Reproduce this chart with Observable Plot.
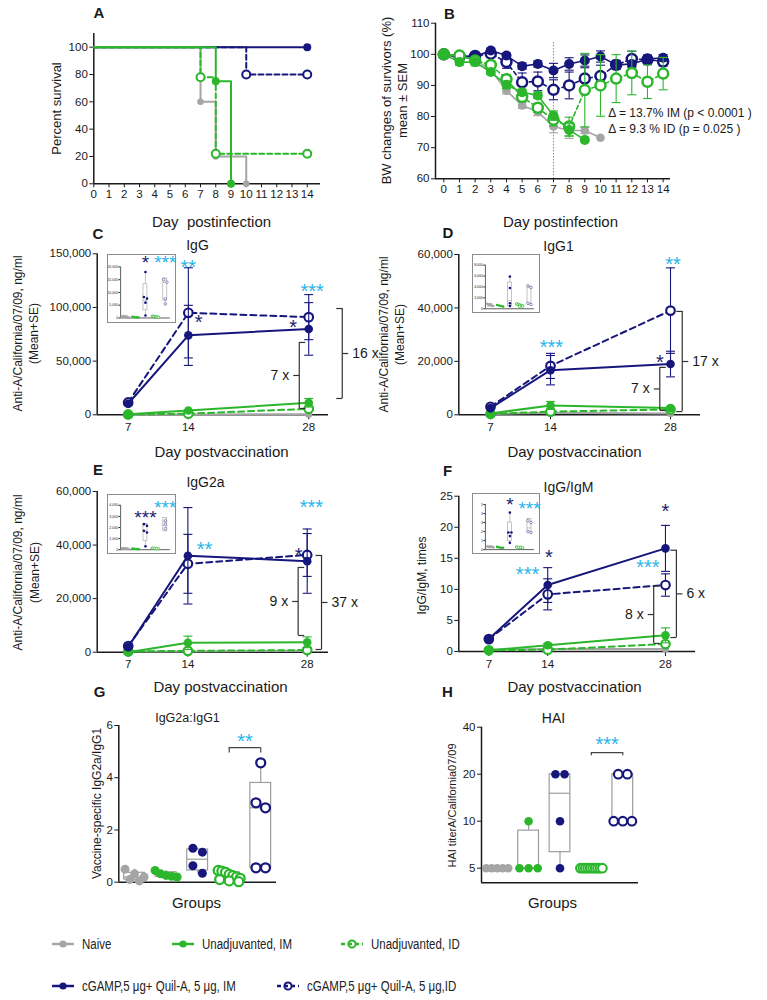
<!DOCTYPE html>
<html><head><meta charset="utf-8">
<script src="https://cdn.jsdelivr.net/npm/d3@7"></script>
<script src="https://cdn.jsdelivr.net/npm/@observablehq/plot@0.6"></script>
<style>
body{margin:0;background:#fff;}
#root{position:relative;width:767px;height:1000px;overflow:hidden;background:#fff;font-family:"Liberation Sans",Arial,sans-serif;}
.panel{position:absolute;}
.panel svg{overflow:visible;}
.inset svg{background:#fff !important;outline:1.3px solid #8c8c8c;outline-offset:-1px;}
.leg{position:absolute;height:16px;display:flex;align-items:center;gap:8px;font-family:"Liberation Sans",Arial,sans-serif;font-size:14px;color:#222;white-space:nowrap;}
.leg span{display:inline-block;transform:scaleX(0.82);transform-origin:left center;}
</style></head>
<body><div id="root"></div>
<script>
// ================= DATA =================
// A: survival (Kaplan–Meier change points)
const survNaiveDay = [0, 7, 8, 10],  survNaivePct = [100, 60, 20, 0];
const survUnIMDay  = [0, 8, 9],      survUnIMPct  = [100, 75, 0];
const survUnIDDay  = [0, 7, 8, 14],  survUnIDPct  = [100, 78, 22, 22];
const survCIMDay   = [0, 14],        survCIMPct   = [100, 100];
const survCIDDay   = [0, 10, 14],    survCIDPct   = [100, 80, 80];
const infectionDayTicks = [0,1,2,3,4,5,6,7,8,9,10,11,12,13,14];
const survivalTicks = [0, 20, 40, 60, 80, 100];

// B: body weight of survivors (mean ± SEM)
const bwDays = [0,1,2,3,4,5,6,7,8,9,10,11,12,13,14];
const bwNaive    = [100, 99.5, 98.2, 95, 88.3, 83.6, 81.5, 76.8, 75.5, 75.5, 73.2];
const bwNaiveSem = [0, 0.5, 0.8, 1, 1, 1, 1.2, 2, 2.5, 1, 0];
const bwUnIM     = [100, 97.5, 97.5, 94.3, 90.2, 87.8, 86.8, 80.3, 75.7, 72.5];
const bwUnIMSem  = [0, 1, 1.2, 0.8, 1.2, 1, 1, 1.5, 2, 0];
const bwUnID     = [100, 99.6, 98, 96.6, 92, 86.3, 82.8, 79, 76.8, 88.5, 90, 92.2, 94, 91.2, 93.8];
const bwUnIDSem  = [0, 0.5, 0.8, 1, 1.5, 1.5, 1.5, 2, 3, 11.8, 9.9, 7.7, 7, 5.4, 5.2];
const bwCIM      = [100, 99, 99.3, 101.2, 99.6, 96.2, 96.9, 94.8, 96.9, 98, 99.3, 96.6, 96.9, 98.5, 98.9];
const bwCIMSem   = [0, 0.5, 0.5, 0.8, 0.8, 1, 1, 2.3, 2, 1.8, 1.8, 1, 1, 1, 1];
const bwCID      = [100, 99.3, 99.5, 100.2, 97.5, 91, 91.3, 88.6, 90, 92.2, 93, 96.6, 98.5, 98.3, 97.7];
const bwCIDSem   = [0, 0.5, 0.5, 0.5, 2, 3, 3, 3.2, 4.3, 3.5, 3.5, 1.5, 2.5, 1.5, 1.5];
const bwTicks = [60, 70, 80, 90, 100, 110];
const deltaNotes = ["\u0394 = 13.7% IM (p < 0.0001 )", "\u0394 = 9.3 % ID (p = 0.025 )"];
const deltaNoteDay = 10.5, deltaNoteY = [81, 75.8];

// C–F: days post vaccination
const vacDays = [7, 14, 28];
// C IgG
const igGNaive = [300, 300, 500];
const igGUnIM = [500, 4000, 11200],  igGUnIMSe = [0, 800, 4000];
const igGUnID = [300, 1000, 5600],   igGUnIDSe = [0, 300, 1500];
const igGCIM  = [10300, 74000, 80000], igGCIMSe = [1500, 28000, 24500];
const igGCID  = [11500, 95000, 91000], igGCIDSe = [1500, 42000, 21000];
const starsC = [[15.2, 89700, "*", "navy"], [26.2, 85000, "*", "navy"], [14.0, 141000, "**", "cyan"], [28.4, 118600, "***", "cyan"]];
const bracketsC = [[26.9, 5900, 67400, "7 x", "r"], [31.9, 15200, 99000, "16 x", "l"]];
// D IgG1
const igG1Naive = [300, 800, 500];
const igG1UnIM = [500, 3500, 2500],  igG1UnIMSe = [0, 1500, 500];
const igG1UnID = [300, 1200, 2000],  igG1UnIDSe = [0, 300, 500];
const igG1CIM  = [2500, 16700, 19000], igG1CIMSe = [500, 5500, 4800];
const igG1CID  = [3000, 18300, 39000], igG1CIDSe = [500, 4700, 16000];
const starsD = [[14.1, 26600, "***", "cyan"], [28.3, 57800, "**", "cyan"], [26.75, 21200, "*", "navy"]];
const bracketsD = [[26.75, 1600, 17750, "7 x", "r"], [29.37, 1200, 38700, "17 x", "l"]];
// E IgG2a
const igG2aNaive = [300, 300, 500];
const igG2aUnIM = [0, 3500, 3700],    igG2aUnIMSe = [0, 2500, 2000];
const igG2aUnID = [300, 500, 800],    igG2aUnIDSe = [0, 200, 300];
const igG2aCIM  = [2000, 36000, 34000], igG2aCIMSe = [300, 18000, 12000];
const igG2aCID  = [2300, 33000, 36300], igG2aCIDSe = [300, 11000, 8000];
const starsE = [[15.95, 39800, "**", "cyan"], [28.5, 55400, "***", "cyan"], [27.0, 37600, "*", "navy"]];
const bracketsE = [[26.94, 6240, 31640, "9 x", "r"], [29.68, 1010, 36120, "37 x", "l"]];
// F IgG/IgM
const ratioNaive = [0.3, 0.4, 0.4];
const ratioUnIM = [0.2, 1.0, 2.6],  ratioUnIMSe = [0, 0.3, 1.2];
const ratioUnID = [0.2, 0.3, 1.2],  ratioUnIDSe = [0, 0.1, 0.3];
const ratioCIM  = [2.0, 10.7, 16.6], ratioCIMSe = [0.2, 2.8, 3.7];
const ratioCID  = [2.0, 9.2, 10.7],  ratioCIDSe = [0.2, 2.5, 1.8];
const starsF = [[14.13, 15.7, "*", "navy"], [11.6, 13.0, "***", "cyan"], [28.0, 23.2, "*", "navy"], [25.9, 14.1, "***", "cyan"]];
const bracketsF = [[26.6, 1.3, 10.6, "8 x", "r"], [29.3, 2.25, 16.3, "6 x", "l"]];

// Insets (day 28 per-mouse values): groups Naive, Unadj IM, cGAMP IM, Unadj ID, cGAMP ID
const insetCBox = [[200, 500, 900, 100, 1000], null, [3000, 7000, 13200, 1000, 18000], null, [6800, 14000, 15500, 5500, 15500]];
const insetCPts = [[500, 700, 400, 600, 300], [300, 400, 500, 200], [18000, 8200, 7600, 6000, 1000], [400, 600, 300, 500, 700], [15000, 14000, 7500, 5500]];
const insetCStars = [[2, 23200, "*", "navy"], [4, 23200, "***", "cyan"]];
const insetDBox = [[400, 600, 900, 300, 1000], null, [470, 1500, 4800, 200, 5900], null, [800, 1000, 3900, 800, 4200]];
const insetDPts = [[600, 800, 500, 700, 900], [500, 600, 400, 700], [5900, 3800, 1000, 500], [600, 400, 800, 500, 700, 900], [4200, 3900, 1000, 800]];
const insetEBox = [[50, 100, 150, 20, 200], null, [800, 1700, 2300, 300, 2300], null, [1650, 2200, 2850, 1650, 2850]];
const insetEPts = [[100, 80, 120, 60, 90], [50, 100, 80, 60], [2300, 2150, 1700, 1550, 300], [100, 150, 80, 120], [2600, 2300, 1900]];
const insetEStars = [[2, 3230, "***", "navy"], [4, 4130, "***", "cyan"]];
const insetFBox = [[0.25, 0.3, 0.35, 0.2, 0.4], null, [0.94, 1.9, 3.0, 0.75, 4.1], null, [1.9, 2.4, 3.4, 1.9, 3.4]];
const insetFPts = [[0.3, 0.35, 0.3, 0.3, 0.25], [0.2, 0.25, 0.3, 0.2], [4.1, 1.9, 1.9, 1.5, 0.75], [0.2, 0.25, 0.3, 0.25], [3.2, 3.0, 2.0, 1.9]];
const insetFStars = [[2, 5.44, "*", "navy"], [4, 4.9, "***", "cyan"]];

// G: IgG2a:IgG1 ratio per mouse
const gNaive = [0.5, 0.32, 0.2, 0.1, 0.05];
const gUnIM  = [0.45, 0.32, 0.26, 0.23, 0.2];
const gCIM   = [1.3, 1.15, 0.63, 0.34];
const gUnID  = [0.45, 0.42, 0.38, 0.3, 0.25, 0.2, 0.15, 0.1, 0.05, 0.02];
const gCID   = [4.57, 3.04, 2.85, 0.55, 0.55];
const gBoxes = [[0.1, 0.2, 0.36, 0.05, 0.5], [0.2, 0.26, 0.38, 0.2, 0.45], [0.45, 0.88, 1.25, 0.34, 1.3], [0.13, 0.22, 0.38, 0.02, 0.45], [0.55, 2.85, 3.8, 0.55, 4.57]];
// H: HAI titers per mouse
const hNaive = [5, 5, 5, 5, 5];
const hUnIM  = [10, 5, 5, 5];
const hCIM   = [20, 20, 10, 5];
const hUnID  = [5, 5, 5, 5, 5, 5, 5, 5, 5, 5];
const hCID   = [20, 20, 10, 10, 10];
const hBoxes = [[5, 5, 5, 5, 5], [5, 5, 8.7, 5, 10], [6.33, 15.1, 20, 5, 20], [5, 5, 5, 5, 5], [10, 10, 20, 10, 20]];

const legendRow1 = [["Naive", "naive"], ["Unadjuvanted, IM", "unIM"], ["Unadjuvanted, ID", "unID"]];
const legendRow2 = [["cGAMP,5 \u03bcg+ Quil-A, 5 \u03bcg, IM", "cIM"], ["cGAMP,5 \u03bcg+ Quil-A, 5 \u03bcg,ID", "cID"]];

// ================= STYLE =================
const NAVY = "#16167c", GREEN = "#2bb62b", GRAY = "#a5a5a5", CYAN = "#2ab4e8", INK = "#1a1a1a", BR = "#333333", BOXC = "#9d9d9d", IDLIGHT = "#7070a8";
const COLORS = {navy: "#1c1c70", cyan: CYAN};
const FONT = '"Liberation Sans", Arial, Helvetica, sans-serif';
const ST = {
  naive: {color: GRAY, open: false, small: true},
  unIM: {color: GREEN, open: false},
  unID: {color: GREEN, open: true},
  cIM: {color: NAVY, open: false},
  cID: {color: NAVY, open: true}
};
const GROUP_ST = [ST.naive, ST.unIM, ST.cIM, ST.unID, ST.cID];

const symH = {draw(c, s) { const r = Math.sqrt(s / Math.PI); c.moveTo(-r, 0); c.lineTo(r, 0); }};
const symR = {draw(c, s) { const r = Math.sqrt(s / Math.PI); c.moveTo(0, 0); c.lineTo(r, 0); }};
const symL = {draw(c, s) { const r = Math.sqrt(s / Math.PI); c.moveTo(-r, 0); c.lineTo(0, 0); }};

// ================= HELPERS =================
const root = document.getElementById("root");
function mount(node, reg, cls) {
  const d = document.createElement("div");
  d.className = cls || "panel";
  Object.assign(d.style, {left: reg.x + "px", top: reg.y + "px", width: reg.w + "px", height: reg.h + "px"});
  d.appendChild(node); root.appendChild(d);
}
function render(P, marks, fontSize) {
  const svg = Plot.plot({
    width: P.reg.w, height: P.reg.h,
    marginLeft: P.ml, marginRight: P.mr, marginTop: P.mt, marginBottom: P.mb,
    style: {fontFamily: FONT, fontSize: (fontSize || 11.5) + "px", color: INK, background: "none", overflow: "visible"},
    x: P.x, y: P.y, marks
  });
  svg.style.overflow = "visible";
  mount(svg, P.reg, P.cls);
  return svg;
}
function ft(P, str, ax, ay, o = {}) {
  return Plot.text([str], {
    text: d => d, frameAnchor: "top-left",
    dx: ax - P.reg.x - P.ml, dy: ay - P.reg.y - P.mt,
    fontSize: o.size || 13, fill: o.color || INK, fontWeight: o.weight || "normal",
    rotate: o.rotate || 0, textAnchor: o.anchor || "middle", lineAnchor: "middle", fontFamily: o.family || FONT
  });
}
function axisLines(P, w) {
  return [
    Plot.ruleX([P.x.domain[0]], {stroke: INK, strokeWidth: w || 1.5}),
    Plot.ruleY([P.y.domain[0]], {stroke: INK, strokeWidth: w || 1.5})
  ];
}
function dotStyle(st, r) {
  return st.open ? {r, fill: "white", stroke: st.color, strokeWidth: Math.max(0.8, r * 0.5)} : {r, fill: st.color, stroke: "none"};
}
function seriesMarks(days, vals, errs, st, o) {
  const pts = days.map((x, i) => ({x, v: vals[i], e: errs ? errs[i] : 0})).filter(p => p.v != null);
  const eb = pts.filter(p => p.e > 0);
  const caps = eb.flatMap(p => [{x: p.x, v: p.v - p.e}, {x: p.x, v: p.v + p.e}]);
  const ms = [];
  if (eb.length) {
    ms.push(Plot.ruleX(eb, {x: "x", y1: p => p.v - p.e, y2: p => p.v + p.e, stroke: st.color, strokeWidth: o.ebw || 1.1}));
    ms.push(Plot.dot(caps, {x: "x", y: "v", symbol: symH, r: o.cap || 4.5, stroke: st.color, strokeWidth: o.ebw || 1.1, fill: "none"}));
  }
  ms.push(Plot.line(pts, {x: "x", y: "v", stroke: st.color, strokeWidth: o.lw || 2, strokeDasharray: st.open ? (o.dash || "6,4") : null, curve: o.curve || "linear"}));
  ms.push(Plot.dot(pts.slice(o.markFrom || 0), {x: "x", y: "v", ...dotStyle(st, st.small ? o.r - 0.7 : o.r)}));
  return ms;
}
function starMarks(list, size) {
  return ["navy", "cyan"].map(c => Plot.text(list.filter(s => s[3] === c), {
    x: s => s[0], y: s => s[1], text: s => s[2], fill: COLORS[c], fontSize: size || 20, dy: 4, lineAnchor: "middle", fontFamily: FONT
  }));
}
function bracketMarks(list) {
  const b = list.map(([x, y1, y2, label, dir]) => ({x, y1, y2, label, dir, ym: (y1 + y2) / 2}));
  const R = b.filter(d => d.dir === "r"), L = b.filter(d => d.dir === "l");
  const ends = arr => arr.flatMap(d => [{x: d.x, y: d.y1}, {x: d.x, y: d.y2}]);
  const base = {stroke: BR, strokeWidth: 1.2, fill: "none", r: 6};
  return [
    Plot.ruleX(b, {x: "x", y1: "y1", y2: "y2", stroke: BR, strokeWidth: 1.2}),
    Plot.dot(ends(R), {x: "x", y: "y", symbol: symR, ...base}),
    Plot.dot(ends(L), {x: "x", y: "y", symbol: symL, ...base}),
    Plot.dot(R, {x: "x", y: "ym", symbol: symL, ...base}),
    Plot.dot(L, {x: "x", y: "ym", symbol: symR, ...base}),
    Plot.text(R, {x: "x", y: "ym", text: "label", textAnchor: "end", dx: -10, fontSize: 14, fill: INK, fontFamily: FONT}),
    Plot.text(L, {x: "x", y: "ym", text: "label", textAnchor: "start", dx: 10, fontSize: 14, fill: INK, fontFamily: FONT})
  ];
}
function swarm(P, groups, r, maxW, yType) {
  const plotH = P.reg.h - P.mt - P.mb, plotW = P.reg.w - P.ml - P.mr;
  const [d0, d1] = P.y.domain;
  const py = v => yType === "log" ? Math.log(v / d0) / Math.log(d1 / d0) * plotH : (v - d0) / (d1 - d0) * plotH;
  const unit = plotW / 5, out = [];
  groups.forEach((vals, g) => {
    const sorted = vals.map(v => ({v, p: py(v)})).sort((a, b) => b.p - a.p);
    const rows = [];
    for (const s of sorted) {
      const row = rows[rows.length - 1];
      if (row && Math.abs(row[0].p - s.p) <= 2 * r) row.push(s); else rows.push([s]);
    }
    for (const row of rows) {
      const n = row.length;
      const sp = n > 1 ? Math.min(2 * r + 0.5, maxW / (n - 1)) : 0;
      row.forEach((s, k) => out.push({g, v: s.v, x: g + (k - (n - 1) / 2) * sp / unit}));
    }
  });
  return out;
}
function pointMarks(P, groups, r, maxW, yType, light) {
  const sw = swarm(P, groups, r, maxW, yType);
  return GROUP_ST.map((st, g) => Plot.dot(sw.filter(p => p.g === g),
    {x: "x", y: "v", ...dotStyle(light && g === 4 ? {...st, color: IDLIGHT} : st, r)}));
}
function boxMarks(boxArr, hw, sw) {
  const b = boxArr.map((q, i) => q && {i, q1: q[0], med: q[1], q3: q[2], lo: q[3], hi: q[4]}).filter(Boolean);
  return [
    Plot.ruleX(b, {x: "i", y1: "q3", y2: "hi", stroke: BOXC, strokeWidth: sw}),
    Plot.ruleX(b, {x: "i", y1: "lo", y2: "q1", stroke: BOXC, strokeWidth: sw}),
    Plot.rect(b, {x1: d => d.i - hw, x2: d => d.i + hw, y1: "q1", y2: "q3", fill: "white", stroke: BOXC, strokeWidth: sw}),
    Plot.ruleY(b, {x1: d => d.i - hw, x2: d => d.i + hw, y: "med", stroke: BOXC, strokeWidth: sw})
  ];
}
function sigMarks(from, to, y, legY, starY, text) {
  const top = [{a: from, b: to, y}];
  const legs = [{x: from}, {x: to}];
  return [
    Plot.ruleY(top, {x1: "a", x2: "b", y: "y", stroke: "#444", strokeWidth: 1.2}),
    Plot.ruleX(legs, {x: "x", y1: () => legY, y2: () => y, stroke: "#444", strokeWidth: 1.2}),
    Plot.text([text], {x: () => (from + to) / 2, y: () => starY, text: d => d, fill: CYAN, fontSize: 20, dy: 4, lineAnchor: "middle", fontFamily: FONT})
  ];
}
function insetPlot(reg, yDomain, yTicks, boxArr, ptsArr, stars) {
  const P = {reg, ml: reg.w * 0.19, mr: reg.w * 0.09, mt: reg.h * 0.18, mb: reg.h * 0.08, cls: "panel inset",
    x: {domain: [-0.5, 4.5], axis: null},
    y: {domain: yDomain, ticks: yTicks, tickSize: 1.5, tickPadding: 1, tickFormat: d3.format(","), label: null}};
  render(P, [
    ...axisLines(P, 0.7),
    ...boxMarks(boxArr, 0.2, 0.6),
    ...pointMarks(P, ptsArr, 1.3, 6, "linear", true),
    ...(stars ? starMarks(stars, 19) : [])
  ], 3.5);
}
const intFmt = d => String(d);

// ================= PANEL A =================
const PA = {reg: {x: 0, y: 0, w: 380, h: 225}, ml: 93.3, mr: 60, mt: 33, mb: 41.7,
  x: {domain: [0, 14.87], ticks: infectionDayTicks, tickSize: 4, tickPadding: 2, tickFormat: intFmt, label: null},
  y: {domain: [0, 110], ticks: survivalTicks, tickSize: 4, tickPadding: 2, tickFormat: intFmt, label: null}};
const ko = {lw: 2, r: 4, dash: "5,3", curve: "step-after", markFrom: 1};
render(PA, [
  ...axisLines(PA),
  ...seriesMarks(survCIDDay, survCIDPct, null, ST.cID, ko),
  ...seriesMarks(survCIMDay, survCIMPct, null, ST.cIM, ko),
  ...seriesMarks(survNaiveDay, survNaivePct, null, ST.naive, ko),
  ...seriesMarks(survUnIDDay, survUnIDPct, null, ST.unID, ko),
  ...seriesMarks(survUnIMDay, survUnIMPct, null, ST.unIM, ko),
  ft(PA, "A", 98.5, 12.5, {size: 15, weight: "bold"}),
  ft(PA, "Percent survival", 56, 108, {size: 13, rotate: -90}),
  ft(PA, "Day  postinfection", 211, 222, {size: 15})
]);

// ================= PANEL B =================
const PB = {reg: {x: 380, y: 0, w: 387, h: 225}, ml: 55, mr: 97, mt: 22.7, mb: 46.7,
  x: {domain: [-0.53, 14.47], ticks: infectionDayTicks, tickSize: 4, tickPadding: 2, tickFormat: intFmt, label: null},
  y: {domain: [60, 110], ticks: bwTicks, tickSize: 4, tickPadding: 2, tickFormat: intFmt, label: null}};
const bo = {lw: 1.6, r: 5, cap: 4.5, dash: "4,3", ebw: 1.1};
render(PB, [
  ...axisLines(PB),
  Plot.ruleX([7], {y1: () => 60, y2: () => 104, stroke: "#444", strokeWidth: 0.9, strokeDasharray: "1,2"}),
  ...seriesMarks(bwDays, bwCID, bwCIDSem, ST.cID, bo),
  ...seriesMarks(bwDays, bwCIM, bwCIMSem, ST.cIM, bo),
  ...seriesMarks(bwDays, bwNaive, bwNaiveSem, ST.naive, bo),
  ...seriesMarks(bwDays, bwUnID, bwUnIDSem, ST.unID, bo),
  ...seriesMarks(bwDays, bwUnIM, bwUnIMSem, ST.unIM, bo),
  Plot.text(deltaNotes, {x: () => deltaNoteDay, y: (d, i) => deltaNoteY[i], text: d => d, textAnchor: "start", lineAnchor: "middle", fontSize: 12, fill: INK, fontFamily: FONT}),
  ft(PB, "B", 449, 14, {size: 15, weight: "bold"}),
  ft(PB, "BW changes of survivors (%)", 386, 100, {size: 13, rotate: -90}),
  ft(PB, "mean \u00b1 SEM", 402, 100, {size: 13, rotate: -90}),
  ft(PB, "Day postinfection", 560, 222, {size: 15})
]);

// ================= PANELS C–F =================
const vo = {lw: 2, r: 4.3, cap: 4.5, dash: "6,4", ebw: 1.1};
function vacSeries(naive, unIM, unIMSe, unID, unIDSe, cIM, cIMSe, cID, cIDSe) {
  return [
    ...seriesMarks(vacDays, naive, null, ST.naive, vo),
    ...seriesMarks(vacDays, unID, unIDSe, ST.unID, vo),
    ...seriesMarks(vacDays, unIM, unIMSe, ST.unIM, vo),
    ...seriesMarks(vacDays, cID, cIDSe, ST.cID, vo),
    ...seriesMarks(vacDays, cIM, cIMSe, ST.cIM, vo)
  ];
}
const fmt = d3.format(",");

const PC = {reg: {x: 0, y: 225, w: 380, h: 230}, ml: 96.7, mr: 52, mt: 28.3, mb: 40.7,
  x: {domain: [3.4, 30.3], ticks: vacDays, tickSize: 5, tickPadding: 3, tickFormat: intFmt, label: null},
  y: {domain: [0, 150000], ticks: [0, 50000, 100000, 150000], tickFormat: fmt, tickSize: 4, tickPadding: 2, label: null}};
render(PC, [
  ...axisLines(PC),
  ...vacSeries(igGNaive, igGUnIM, igGUnIMSe, igGUnID, igGUnIDSe, igGCIM, igGCIMSe, igGCID, igGCIDSe),
  ...bracketMarks(bracketsC),
  ...starMarks(starsC),
  ft(PC, "C", 97.5, 234, {size: 15, weight: "bold"}),
  ft(PC, "IgG", 197, 245, {size: 14}),
  ft(PC, "Anti-A/California/07/09, ng/ml", 17.5, 333, {size: 12, rotate: -90}),
  ft(PC, "(Mean+SE)", 34, 333, {size: 12, rotate: -90}),
  ft(PC, "Day postvaccination", 221, 452, {size: 15})
]);
insetPlot({x: 107, y: 254, w: 69, h: 69}, [0, 20000], [0, 5000, 10000, 15000, 20000], insetCBox, insetCPts, insetCStars);

const PD = {reg: {x: 380, y: 225, w: 387, h: 230}, ml: 78.3, mr: 67, mt: 29, mb: 40.7,
  x: {domain: [3.3, 31.5], ticks: vacDays, tickSize: 5, tickPadding: 3, tickFormat: intFmt, label: null},
  y: {domain: [0, 60000], ticks: [0, 20000, 40000, 60000], tickFormat: fmt, tickSize: 4, tickPadding: 2, label: null}};
render(PD, [
  ...axisLines(PD),
  ...vacSeries(igG1Naive, igG1UnIM, igG1UnIMSe, igG1UnID, igG1UnIDSe, igG1CIM, igG1CIMSe, igG1CID, igG1CIDSe),
  ...bracketMarks(bracketsD),
  ...starMarks(starsD),
  ft(PD, "D", 447.5, 233, {size: 15, weight: "bold"}),
  ft(PD, "IgG1", 558, 246, {size: 14}),
  ft(PD, "Anti-A/California/07/09, ng/ml", 384, 334, {size: 12, rotate: -90}),
  ft(PD, "(Mean+SE)", 400, 334, {size: 12, rotate: -90}),
  ft(PD, "Day postvaccination", 574, 452, {size: 15})
]);
insetPlot({x: 472, y: 254, w: 68, h: 59}, [0, 8000], [0, 2000, 4000, 6000, 8000], insetDBox, insetDPts, null);

const PE = {reg: {x: 0, y: 455, w: 380, h: 230}, ml: 96.7, mr: 52, mt: 36, mb: 33.3,
  x: {domain: [3.36, 30.5], ticks: vacDays, tickSize: 5, tickPadding: 3, tickFormat: intFmt, label: null},
  y: {domain: [0, 60000], ticks: [0, 20000, 40000, 60000], tickFormat: fmt, tickSize: 4, tickPadding: 2, label: null}};
render(PE, [
  ...axisLines(PE),
  ...vacSeries(igG2aNaive, igG2aUnIM, igG2aUnIMSe, igG2aUnID, igG2aUnIDSe, igG2aCIM, igG2aCIMSe, igG2aCID, igG2aCIDSe),
  ...bracketMarks(bracketsE),
  ...starMarks(starsE),
  ft(PE, "E", 97.5, 470, {size: 15, weight: "bold"}),
  ft(PE, "IgG2a", 205, 482, {size: 14}),
  ft(PE, "Anti-A/California/07/09, ng/ml", 18, 572, {size: 12, rotate: -90}),
  ft(PE, "(Mean+SE)", 35, 572, {size: 12, rotate: -90}),
  ft(PE, "Day postvaccination", 220, 687, {size: 15})
]);
insetPlot({x: 107, y: 494, w: 69, h: 60}, [0, 4000], [0, 1000, 2000, 3000, 4000], insetEBox, insetEPts, insetEStars);

const PF = {reg: {x: 380, y: 455, w: 387, h: 230}, ml: 78.3, mr: 72, mt: 40.7, mb: 34,
  x: {domain: [3.43, 31.57], ticks: vacDays, tickSize: 5, tickPadding: 3, tickFormat: intFmt, label: null},
  y: {domain: [0, 25], ticks: [0, 5, 10, 15, 20, 25], tickSize: 4, tickPadding: 2, tickFormat: intFmt, label: null}};
render(PF, [
  ...axisLines(PF),
  ...vacSeries(ratioNaive, ratioUnIM, ratioUnIMSe, ratioUnID, ratioUnIDSe, ratioCIM, ratioCIMSe, ratioCID, ratioCIDSe),
  ...bracketMarks(bracketsF),
  ...starMarks(starsF),
  ft(PF, "F", 447, 471, {size: 15, weight: "bold"}),
  ft(PF, "IgG/IgM", 568, 487, {size: 14}),
  ft(PF, "IgG/IgM, times", 422, 575, {size: 12, rotate: -90}),
  ft(PF, "Day postvaccination", 574, 687, {size: 15})
]);
insetPlot({x: 472, y: 493, w: 68, h: 61}, [0, 5], [0, 1, 2, 3, 4, 5], insetFBox, insetFPts, insetFStars);

// ================= PANEL G =================
const PG = {reg: {x: 0, y: 685, w: 380, h: 225}, ml: 118.3, mr: 104, mt: 40, mb: 28.3,
  x: {domain: [-0.5, 4.5], axis: null},
  y: {domain: [0, 6], ticks: [0, 2, 4, 6], tickSize: 4, tickPadding: 2, tickFormat: intFmt, label: null}};
render(PG, [
  ...axisLines(PG),
  ...boxMarks(gBoxes, 0.33, 1.2),
  ...pointMarks(PG, [gNaive, gUnIM, gCIM, gUnID, gCID], 4.5, 22, "linear", false),
  ...sigMarks(3, 4, 5.15, 4.95, 5.55, "**"),
  ft(PG, "G", 99, 692, {size: 15, weight: "bold"}),
  ft(PG, "IgG2a:IgG1", 187, 717, {size: 12.5}),
  ft(PG, "Vaccine-specific IgG2a/IgG1", 97, 803, {size: 12, rotate: -90}),
  ft(PG, "Groups", 196, 903, {size: 15})
]);

// ================= PANEL H =================
const PH = {reg: {x: 380, y: 685, w: 387, h: 225}, ml: 101, mr: 129, mt: 41.7, mb: 27.7,
  x: {domain: [-0.5, 4.5], axis: null},
  y: {type: "log", domain: [4.03, 40], ticks: [5, 10, 20, 40], tickFormat: intFmt, tickSize: 4, tickPadding: 2, label: null}};
render(PH, [
  ...axisLines(PH),
  ...boxMarks(hBoxes, 0.33, 1.2),
  ...pointMarks(PH, [hNaive, hUnIM, hCIM, hUnID, hCID], 4.3, 22, "log", false),
  ...sigMarks(3, 4, 27.5, 26.3, 33, "***"),
  ft(PH, "H", 447, 692, {size: 15, weight: "bold"}),
  ft(PH, "HAI", 553, 718, {size: 14}),
  ft(PH, "HAI titerA/California07/09", 452, 805, {size: 11, rotate: -90}),
  ft(PH, "Groups", 552, 903, {size: 15})
]);

// ================= LEGEND =================
function swatch(st) {
  const c = st.color;
  const dash = st.open ? ' stroke-dasharray="4,3"' : '';
  return `<svg width="22" height="12" style="overflow:visible"><line x1="0" x2="22" y1="6" y2="6" stroke="${c}" stroke-width="2.5"${dash}/>` +
    `<circle cx="11" cy="6" r="3.6" fill="${st.open ? 'none' : c}" stroke="${c}" stroke-width="${st.open ? 2 : 0}"/></svg>`;
}
function legendItem(x, y, [label, key]) {
  const d = document.createElement("div");
  d.className = "leg";
  d.style.left = x + "px"; d.style.top = (y - 8) + "px";
  d.innerHTML = swatch(ST[key]) + `<span>${label}</span>`;
  root.appendChild(d);
}
[52, 172, 341].forEach((x, i) => legendItem(x, 944, legendRow1[i]));
[52, 277].forEach((x, i) => legendItem(x, 986, legendRow2[i]));
</script></body></html>
